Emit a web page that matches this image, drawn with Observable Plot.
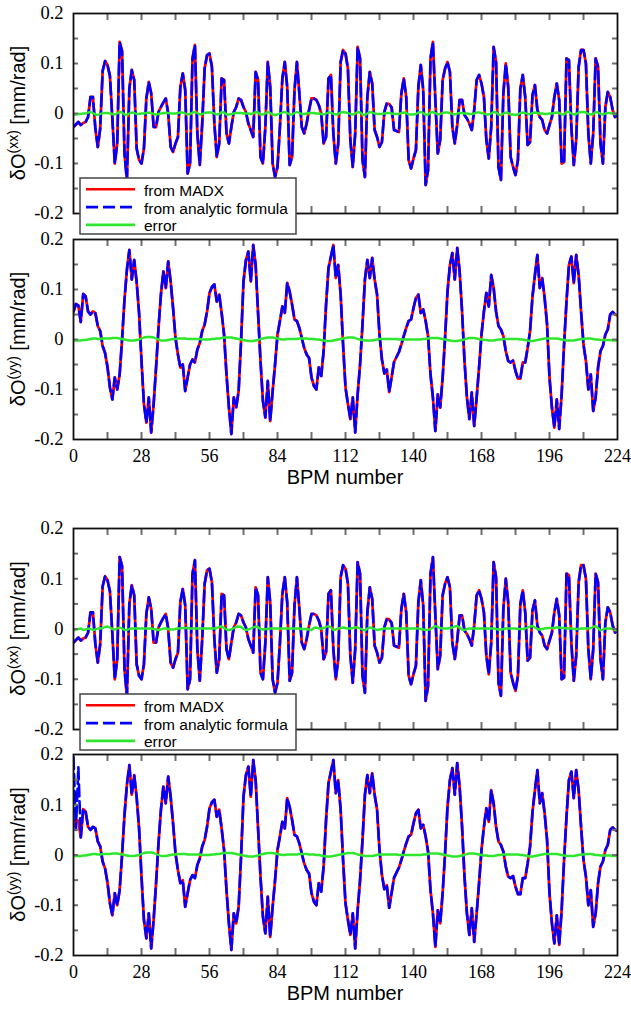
<!DOCTYPE html>
<html><head><meta charset="utf-8">
<script src="https://cdn.jsdelivr.net/npm/d3@7"></script>
<script src="https://cdn.jsdelivr.net/npm/@observablehq/plot@0.6"></script>
<style>
html,body{margin:0;padding:0;background:#fff;}
#root{position:relative;width:631px;height:1011px;overflow:hidden;background:#fff;}
</style></head><body><div id="root"></div>
<script>
// ---------- tick labels / tick positions ----------
const bpmTickLabels = [0, 28, 56, 84, 112, 140, 168, 196, 224];
const bpmTickMarks = [14, 28, 42, 56, 70, 84, 98, 112, 126, 140, 154, 168, 182, 196, 210];
const yTickLabels = [-0.2, -0.1, 0, 0.1, 0.2];
const yTickMarks = [-0.15, -0.1, -0.05, 0, 0.05, 0.1, 0.15];
const seriesNames = ["from MADX", "from analytic formula", "error"];
const xTitle = "BPM number";

// ---------- series: δO(xx), BPM 0..224 ----------
const madxXX = [
-0.027,-0.022,-0.017,-0.023,-0.019,-0.017,-0.007,0.033,0.033,-0.030,
-0.067,-0.030,0.085,0.105,0.097,0.075,-0.010,-0.100,-0.060,0.143,
0.125,-0.080,-0.133,0.050,0.087,0.067,-0.070,-0.093,-0.100,-0.070,
0.030,0.063,0.040,-0.027,-0.027,0.003,0.013,0.022,0.030,0.000,
-0.067,-0.077,-0.060,-0.047,0.053,0.080,0.047,-0.120,-0.100,0.110,
0.137,-0.040,-0.103,-0.020,0.090,0.117,0.120,0.093,-0.020,-0.087,
-0.060,0.070,0.067,-0.040,-0.060,-0.027,0.003,0.013,0.030,0.027,
0.013,0.003,-0.020,-0.033,-0.047,0.083,0.067,-0.087,-0.100,-0.027,
0.103,0.053,-0.100,-0.127,-0.107,-0.027,0.070,0.103,0.053,-0.103,
-0.087,0.047,0.103,0.040,-0.027,-0.040,-0.020,0.007,0.030,0.030,
0.027,0.017,0.000,-0.060,-0.047,0.070,0.077,-0.040,-0.100,-0.060,
0.103,0.127,0.120,0.090,-0.053,-0.107,-0.040,0.133,0.110,-0.093,
-0.127,0.033,0.083,0.060,-0.033,-0.047,-0.067,-0.057,0.003,0.020,
0.019,0.012,-0.033,-0.035,-0.037,0.040,0.070,0.033,-0.093,-0.110,
-0.090,-0.073,0.053,0.097,0.047,-0.143,-0.113,0.110,0.143,0.027,
-0.080,-0.053,0.067,0.090,0.103,0.083,-0.027,-0.060,-0.023,0.027,
0.027,-0.003,-0.010,-0.020,-0.033,0.007,0.067,0.077,0.060,0.033,
-0.053,-0.090,-0.027,0.133,0.103,-0.107,-0.133,0.040,0.100,0.053,
-0.087,-0.107,-0.123,-0.093,0.050,0.077,0.033,-0.063,-0.057,0.037,
0.057,0.007,-0.007,-0.013,-0.033,-0.040,-0.023,-0.007,0.033,0.060,
0.027,-0.100,-0.097,0.110,0.107,-0.027,-0.103,-0.053,0.093,0.127,
0.127,0.100,-0.040,-0.100,-0.040,0.110,0.093,-0.060,-0.100,0.013,
0.043,0.033,0.007,-0.007,-0.003];

// ---------- series: δO(yy), BPM 0..224 ----------
const madxYY = [
0.056,0.071,0.068,0.035,0.091,0.086,0.056,0.050,0.056,0.053,
0.027,0.017,-0.013,-0.027,-0.055,-0.096,-0.120,-0.076,-0.100,-0.070,
0.000,0.080,0.140,0.179,0.120,0.159,0.115,0.053,-0.043,-0.129,
-0.166,-0.116,-0.186,-0.129,-0.056,0.023,0.090,0.136,0.103,0.156,
0.116,0.063,0.003,-0.030,-0.056,-0.050,-0.103,-0.076,-0.050,-0.040,
-0.046,-0.020,-0.007,0.017,0.030,0.056,0.093,0.105,0.110,0.076,
0.090,0.053,0.010,-0.070,-0.136,-0.189,-0.116,-0.136,-0.103,-0.003,
0.116,0.159,0.176,0.116,0.189,0.149,0.053,-0.043,-0.123,-0.156,
-0.083,-0.163,-0.103,-0.050,0.010,0.037,0.066,0.053,0.113,0.096,
0.070,0.040,0.037,0.023,0.003,-0.017,-0.030,-0.037,-0.076,-0.093,
-0.100,-0.056,-0.073,-0.023,0.070,0.143,0.166,0.189,0.123,0.149,
0.090,-0.010,-0.096,-0.129,-0.159,-0.116,-0.186,-0.110,-0.050,0.030,
0.120,0.159,0.123,0.163,0.120,0.090,0.010,-0.040,-0.068,-0.060,
-0.105,-0.075,-0.045,-0.035,-0.025,-0.010,0.007,0.023,0.037,0.040,
0.063,0.083,0.090,0.053,0.060,0.037,0.007,-0.070,-0.116,-0.183,
-0.110,-0.136,-0.076,0.003,0.096,0.149,0.173,0.120,0.183,0.136,
0.056,-0.043,-0.116,-0.159,-0.106,-0.173,-0.116,-0.056,0.010,0.056,
0.093,0.066,0.129,0.103,0.056,0.027,0.020,0.007,-0.023,-0.043,
-0.046,-0.042,-0.063,-0.078,-0.078,-0.046,-0.046,-0.017,0.017,0.086,
0.129,0.169,0.103,0.123,0.083,0.030,-0.076,-0.136,-0.176,-0.120,
-0.179,-0.110,-0.010,0.076,0.149,0.166,0.113,0.169,0.129,0.056,
-0.010,-0.043,-0.100,-0.070,-0.143,-0.116,-0.056,-0.023,-0.013,0.010,
0.020,0.050,0.055,0.050,0.048];

// analytic formula, lower figure, yy: first three BPMs deviate (spike at start)
const analyticYYLowerStart = [0.195, 0.050, 0.175];

// ---------- error series ----------
const errXX = [
-0.002,-0.002,-0.001,-0.001,0,0,0.002,0.003,0.001,-0.002,
-0.003,-0.001,0.001,0.001,0.001,0,-0.001,-0.002,0,0.003,
0.002,-0.002,-0.003,0,0.002,0.001,-0.001,-0.001,0,0,
0.001,0.002,0.001,-0.001,-0.002,-0.001,0,0.001,0.001,0.001,
0,0,0,0.001,0.002,0.002,0,-0.002,-0.001,0.002,
0.003,0.001,-0.002,-0.001,0.001,0.002,0.002,0.002,0,-0.002,
-0.001,0.003,0.002,-0.002,-0.002,-0.001,0,0.001,0.001,0.001,
0,0,0,-0.001,0,0.003,0.002,-0.002,-0.002,0,
0.003,0.001,-0.002,-0.003,-0.002,0,0.002,0.003,0.001,-0.002,
-0.002,0.001,0.003,0.001,-0.001,-0.001,0,0.001,0.001,0.001,
0,0,-0.001,-0.002,0,0.002,0.002,-0.001,-0.002,-0.001,
0.002,0.003,0.002,0.001,-0.001,-0.002,0,0.003,0.002,-0.002,
-0.003,0,0.003,0.002,0,-0.001,-0.001,-0.001,0,0.001,
0.001,0,-0.001,-0.001,-0.001,0.001,0.002,0.001,-0.002,-0.002,
-0.002,-0.001,0.002,0.003,0.001,-0.003,-0.002,0.002,0.003,0.001,
-0.002,-0.001,0.001,0.002,0.002,0.001,-0.001,-0.002,0,0.001,
0.001,0,0,-0.001,-0.001,0,0.002,0.002,0.001,0,
-0.002,-0.002,0,0.003,0.002,-0.002,-0.003,0,0.002,0.001,
-0.002,-0.002,-0.003,-0.002,0.001,0.002,0.001,-0.001,-0.001,0.001,
0.002,0.001,0,0,-0.001,-0.001,0,0,0.001,0.002,
0.001,-0.002,-0.002,0.003,0.003,0,-0.002,-0.001,0.002,0.003,
0.003,0.002,-0.001,-0.002,-0.001,0.003,0.002,-0.001,-0.002,0,
0.001,0.001,0,-0.001,-0.001];

const errYY = [
-0.002,-0.002,-0.002,-0.002,-0.001,-0.001,0,0.001,0.002,0.002,
0.001,0.001,0.002,0.002,0.002,0.002,0.003,0.003,0.003,0.002,
0.001,0,-0.001,-0.002,-0.002,-0.002,-0.001,0,0.002,0.004,
0.005,0.005,0.005,0.004,0.002,0,-0.002,-0.002,-0.002,-0.001,
0,0.001,0.001,0.002,0.002,0.002,0.002,0.001,0.001,0.001,
0.001,0.001,0.001,0,0,0,0,0.001,0.001,0.002,
0.002,0.003,0.004,0.004,0.004,0.004,0.003,0.002,0.001,0,
-0.001,-0.002,-0.003,-0.003,-0.003,-0.002,-0.001,0.001,0.002,0.003,
0.004,0.004,0.004,0.003,0.002,0.001,0,0,0.001,0.001,
0.001,0.001,0.001,0.002,0.002,0.002,0.002,0.001,0.001,0.001,
0,0,-0.001,-0.002,-0.003,-0.003,-0.003,-0.002,-0.001,0,
0.001,0.002,0.003,0.004,0.004,0.004,0.003,0.001,0,-0.001,
-0.002,-0.002,-0.002,-0.002,-0.001,0,0.001,0.001,0.001,0.001,
0.001,0.001,0.001,0.001,0,0,0,0,0,0,
0,0,0,0,0.001,0.001,0.002,0.003,0.003,0.003,
0.003,0.002,0.001,0,-0.001,-0.002,-0.003,-0.003,-0.003,-0.002,
-0.001,0,0.002,0.003,0.003,0.003,0.002,0.001,0,-0.001,
-0.001,-0.002,-0.002,-0.002,-0.001,0,0,0.001,0.001,0.001,
0.001,0.001,0.001,0.001,0,0,-0.001,-0.002,-0.003,-0.003,
-0.002,-0.001,0,0.001,0.002,0.002,0.002,0.002,0.002,0.002,
0.001,0,-0.001,-0.002,-0.002,-0.002,-0.002,-0.001,0,0.001,
0.001,0.002,0.002,0.002,0.001,0,0,-0.001,-0.001,-0.001,
-0.001,-0.001,-0.002,-0.002,-0.002];

const errXXLower = [
-0.002,-0.001,0,0.001,-0.002,-0.001,0.001,0,-0.002,-0.001,
0.001,0.001,0.002,0.004,0.005,0.003,0,-0.001,0.001,0.003,
0.001,-0.002,-0.002,0,0.001,0.001,0.001,0.001,0.001,0.001,
0.001,0.001,0.001,0,-0.001,-0.002,-0.001,0.001,0.001,0,
-0.001,-0.001,0,0.001,0.001,0.002,0.002,0.002,0.001,0.001,
0.001,0.001,0.001,0.001,0.001,0.001,0.001,0.001,0.001,0.002,
0.004,0.005,0.002,-0.001,-0.002,-0.001,0.002,0.004,0.005,0.004,
0,-0.002,-0.001,0.001,0.003,0.005,0.004,0,-0.001,0,
0,0.001,0.001,0.001,0.001,0.001,0.001,0.001,0.001,0.001,
0.001,0.001,0.001,0.001,0,0,0,-0.001,-0.002,0.002,
0.003,0.001,0.001,0.002,0.004,0.006,0.003,-0.002,-0.001,0.001,
0.002,0.003,0.002,0.001,0.001,0.002,0.003,0.003,0.001,-0.001,
-0.003,0.001,0.003,0.002,0,-0.002,-0.001,0,0.001,0.001,
0.001,0.001,0.001,0.001,0.001,0.001,0.001,0.001,0.001,0.001,
0.001,0.001,0.001,0,-0.001,-0.002,-0.002,0,0.003,0.006,
0.004,0.002,0.001,0.001,0.001,0.002,0.003,0.005,0.006,0.003,
-0.001,-0.002,0,0.001,0.001,0.001,0.001,0.001,0.001,0.001,
0.001,0.001,0.001,0.001,0,-0.001,-0.001,0,0.001,0.001,
0.001,0.001,0.001,0,0,0,0.001,0.003,0.005,0.006,
0.003,0,-0.001,0,0.001,0.002,0.002,0.002,0.002,0.003,
0.003,0.002,0.002,0.001,0.001,0.001,0,0,0,0.001,
0.001,0.001,0.001,0.002,0.004,0.006,0.002,-0.003,-0.001,0.001,
0.001,0.001,0,-0.002,-0.003];

// ---------- styling ----------
const RED = "#ff0000", BLUE = "#0000ff", GREEN = "#2ee62e";
const SERIF = "'Liberation Serif', 'DejaVu Serif', serif";
const SANS = "'Liberation Sans', Arial, sans-serif";
const tickColor = "#6e6e6e";
const fmt = d => d === 0 ? "0" : d.toFixed(1);

const root = document.getElementById("root");

function table(arr) { return arr.map((v, i) => ({bpm: i, v})); }

function panel(cfg) {
  const innerH = cfg.innerH, innerW = 631 - 73 - 14;
  const H = 13 + innerH + cfg.mb;
  const marks = [
    Plot.line(table(cfg.madx), {x: "bpm", y: "v", stroke: RED, strokeWidth: 2.8, clip: true}),
    Plot.line(table(cfg.analytic), {x: "bpm", y: "v", stroke: BLUE, strokeWidth: 2.6, strokeDasharray: "12,5", clip: true}),
    Plot.line(table(cfg.err), {x: "bpm", y: "v", stroke: GREEN, strokeWidth: 2.4, clip: true}),
    Plot.tickX(bpmTickMarks, {x: d => d, stroke: tickColor, strokeWidth: 2, insetTop: innerH - 7}),
    Plot.tickX(bpmTickMarks, {x: d => d, stroke: tickColor, strokeWidth: 2, insetBottom: innerH - 7}),
    Plot.tickY(yTickMarks, {y: d => d, stroke: tickColor, strokeWidth: 2, insetRight: innerW - 5}),
    Plot.tickY(yTickMarks, {y: d => d, stroke: tickColor, strokeWidth: 2, insetLeft: innerW - 5}),
    Plot.frame({stroke: "#111", strokeWidth: 1.8}),
    Plot.axisY(yTickLabels, {tickSize: 0, tickPadding: 10, tickFormat: fmt, label: null,
      fontSize: 18.5, fontFamily: SERIF, fill: "#000"})
  ];
  if (cfg.xLabels) {
    marks.push(Plot.axisX(bpmTickLabels, {tickSize: 0, tickPadding: 10, label: null,
      tickFormat: d => String(d), fontSize: 18, fontFamily: SERIF, fill: "#000"}));
  }
  const svg = Plot.plot({
    width: 631, height: H,
    marginLeft: 73, marginRight: 14, marginTop: 13, marginBottom: cfg.mb,
    x: {domain: [0, 224], axis: cfg.xLabels ? undefined : null},
    y: {domain: [-0.2, 0.2]},
    style: {background: "transparent", fontFamily: SERIF, fontSize: "18.5px", overflow: "visible"},
    marks
  });
  svg.style.position = "absolute";
  svg.style.left = "0px";
  svg.style.top = cfg.top + "px";

  // y-axis title with superscript
  const t = d3.select(svg).append("text")
    .attr("transform", `translate(25,${13 + innerH / 2}) rotate(-90)`)
    .attr("text-anchor", "middle")
    .attr("font-family", SANS).attr("font-size", 20).attr("fill", "#000");
  t.append("tspan").text("δO");
  t.append("tspan").attr("font-size", 14).attr("dy", -7).text(cfg.sup);
  t.append("tspan").attr("dy", 7).text(" [mm/rad]");

  if (cfg.xLabels) {
    d3.select(svg).append("text")
      .attr("x", 73 + innerW / 2).attr("y", 13 + innerH + 45)
      .attr("text-anchor", "middle")
      .attr("font-family", SANS).attr("font-size", 20).attr("fill", "#000")
      .text(xTitle);
  }
  root.appendChild(svg);
}

function legend(top) {
  const colors = [RED, BLUE, GREEN];
  const dashes = [null, "12,5", null];
  const w = 216, h = 56;
  const svg = d3.create("svg").attr("width", w + 2).attr("height", h + 2)
    .style("position", "absolute").style("left", "79px").style("top", (top - 1) + "px")
    .style("z-index", 5);
  svg.append("rect").attr("x", 1).attr("y", 1).attr("width", w).attr("height", h)
    .attr("fill", "#fff").attr("stroke", "#444").attr("stroke-width", 1.5);
  seriesNames.forEach((name, i) => {
    const ly = 12.3 + i * 17.8;
    svg.append("line").attr("x1", 7).attr("x2", 56).attr("y1", ly).attr("y2", ly)
      .attr("stroke", colors[i]).attr("stroke-width", 2.6)
      .attr("stroke-dasharray", dashes[i]);
    svg.append("text").attr("x", 65).attr("y", ly + 6.5)
      .attr("font-family", SANS).attr("font-size", 15.5).attr("fill", "#000")
      .text(name);
  });
  root.appendChild(svg.node());
}

const analyticYYLower = analyticYYLowerStart.concat(madxYY.slice(analyticYYLowerStart.length));

panel({top: 0,   innerH: 200, mb: 10, madx: madxXX, analytic: madxXX, err: errXX, sup: "(xx)", xLabels: false});
panel({top: 226, innerH: 200, mb: 60, madx: madxYY, analytic: madxYY, err: errYY, sup: "(yy)", xLabels: true});
panel({top: 515, innerH: 201, mb: 10, madx: madxXX, analytic: madxXX, err: errXXLower, sup: "(xx)", xLabels: false});
panel({top: 741, innerH: 201, mb: 56, madx: madxYY, analytic: analyticYYLower, err: errYY, sup: "(yy)", xLabels: true});
legend(178);
legend(693.5);
</script></body></html>
